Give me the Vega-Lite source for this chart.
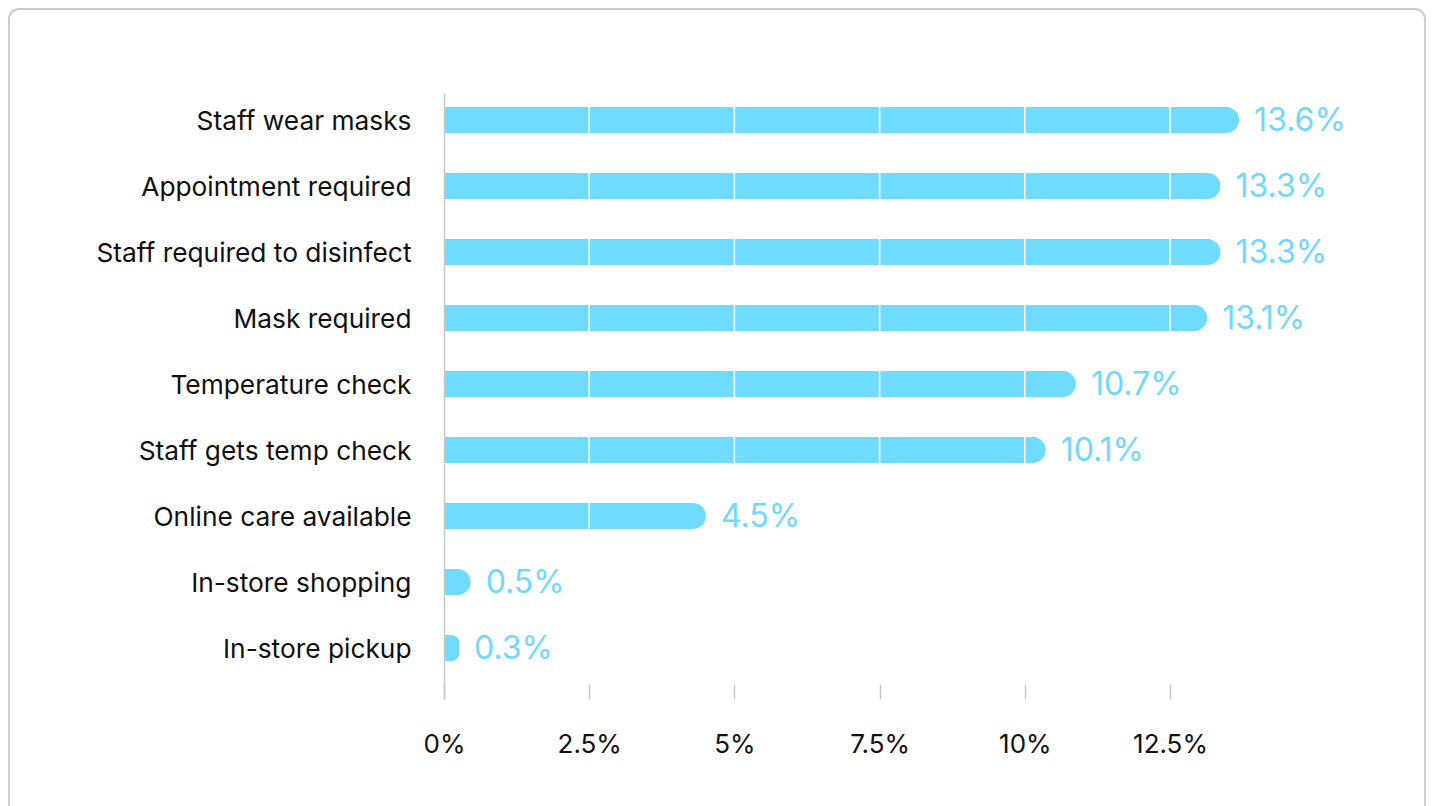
{
  "$schema": "https://vega.github.io/schema/vega-lite/v6.json",
  "autosize": "none",
  "width": 1416,
  "height": 820,
  "padding": {"left": 9, "top": 9, "right": 7, "bottom": 0},
  "background": "white",
  "config": {
    "view": {"stroke": "#cccccc", "strokeWidth": 2, "cornerRadius": 10, "fill": "white"},
    "font": "Inter"
  },
  "data": {
    "values": [
      {"item": "Staff wear masks", "value": 13.69, "label": "13.6%"},
      {"item": "Appointment required", "value": 13.37, "label": "13.3%"},
      {"item": "Staff required to disinfect", "value": 13.37, "label": "13.3%"},
      {"item": "Mask required", "value": 13.14, "label": "13.1%"},
      {"item": "Temperature check", "value": 10.88, "label": "10.7%"},
      {"item": "Staff gets temp check", "value": 10.36, "label": "10.1%"},
      {"item": "Online care available", "value": 4.51, "label": "4.5%"},
      {"item": "In-store shopping", "value": 0.46, "label": "0.5%"},
      {"item": "In-store pickup", "value": 0.26, "label": "0.3%"}
    ]
  },
  "encoding": {
    "y": {
      "field": "item",
      "type": "nominal",
      "sort": null,
      "scale": {"range": [84, 690], "paddingInner": 0.606, "paddingOuter": 0.394, "align": 0.269},
      "axis": {
        "title": null,
        "domain": true,
        "domainColor": "#c8c8c8",
        "domainWidth": 1.5,
        "ticks": false,
        "grid": false,
        "labelPadding": 33,
        "labelFontSize": 26.3,
        "labelLimit": 600,
        "labelOffset": 2,
        "labelColor": "#111111",
        "labelFont": "Inter",
        "offset": -435,
        "zindex": 2
      }
    }
  },
  "layer": [
    {
      "mark": {"type": "bar", "color": "#6fdcff", "cornerRadiusEnd": 13},
      "encoding": {
        "x": {
          "field": "value",
          "type": "quantitative",
          "scale": {"domain": [0, 12.5], "range": [435, 1161], "nice": false, "zero": true},
          "axis": {
            "title": null,
            "values": [0, 2.5, 5, 7.5, 10, 12.5],
            "domain": false,
            "ticks": true,
            "tickSize": -15,
            "tickColor": "#c8c8c8",
            "tickWidth": 1.5,
            "grid": false,
            "labelExpr": "datum.value + '%'",
            "labelFontSize": 26,
            "labelColor": "#111111",
            "labelFont": "Inter",
            "labelPadding": 47,
            "labelFlush": false,
            "offset": -130,
            "zindex": 1
          }
        }
      }
    },
    {
      "data": {"values": [{"tick": 2.5}, {"tick": 5}, {"tick": 7.5}, {"tick": 10}, {"tick": 12.5}]},
      "mark": {"type": "rule", "color": "#ffffff", "strokeWidth": 1.5},
      "encoding": {
        "x": {"field": "tick", "type": "quantitative"},
        "y": {"datum": "Staff wear masks", "type": "nominal", "bandPosition": 0},
        "y2": {"datum": "In-store pickup"}
      }
    },
    {
      "mark": {"type": "text", "align": "left", "baseline": "middle", "dx": 15, "dy": 1, "fontSize": 32, "color": "#70d9ff", "font": "Inter"},
      "encoding": {
        "x": {"field": "value", "type": "quantitative"},
        "text": {"field": "label"}
      }
    }
  ]
}
